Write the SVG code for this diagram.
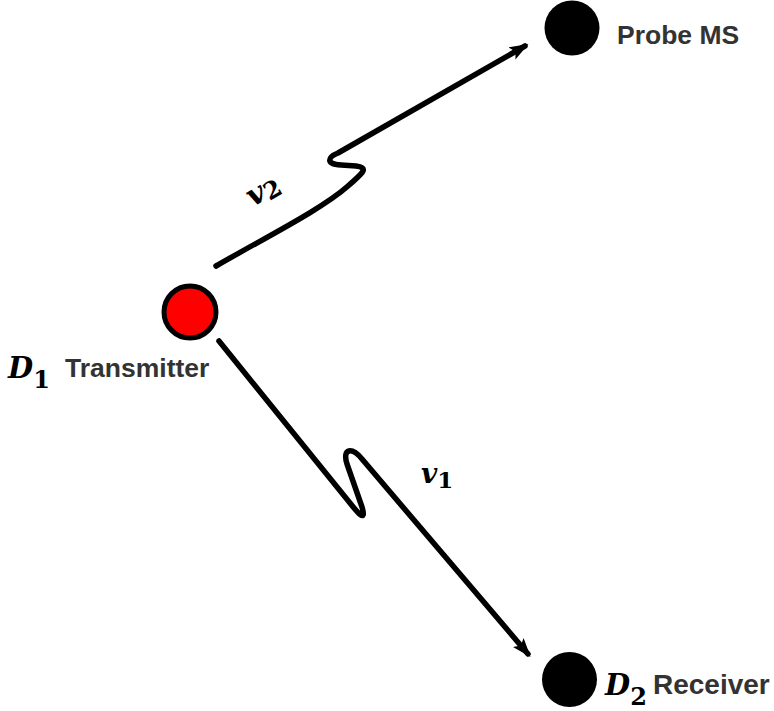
<svg xmlns="http://www.w3.org/2000/svg" width="774" height="711" viewBox="0 0 774 711">
  <style>
    .lbl { font-family: "Liberation Sans", Arial, sans-serif; font-weight: bold; fill: #333333; }
    .math { font-family: "DejaVu Serif", "Liberation Serif", serif; font-weight: bold; font-style: italic; fill: #000000; }
    .sub { font-style: normal; }
    .wire { fill: none; stroke: #000000; stroke-width: 5.5; stroke-linecap: round; stroke-linejoin: round; }
  </style>
  <defs>
    <marker id="arrow" markerUnits="userSpaceOnUse" markerWidth="20" markerHeight="16" refX="15" refY="7" orient="auto">
      <path d="M0,0 L19,7 L0,14 L4,7 Z" fill="#000000"/>
    </marker>
  </defs>
  <rect width="774" height="711" fill="#ffffff"/>

  <g id="connectors">
    <path class="wire" d="M216,266 C268,236 322,209 348,186 C360,175 371,168 356,166 L341,165 C325,164 328,157 338,153 L525,46" marker-end="url(#arrow)"/>
    <path class="wire" d="M219,341 L350,503 C357,512 367,524 362,507 L347,464 C342,448 352,447 362,459 L528,654" marker-end="url(#arrow)"/>
    <text class="math" font-size="30" transform="translate(253,207) rotate(-30)">v<tspan class="sub" font-size="24" dy="3">2</tspan></text>
    <text class="math" font-size="28" x="421" y="483">v<tspan class="sub" font-size="23" dy="5">1</tspan></text>
  </g>

  <g id="D1">
    <circle cx="190" cy="312" r="26" fill="#ff0000" stroke="#000000" stroke-width="5"/>
    <text class="math" font-size="29" x="8" y="378">D<tspan class="sub" font-size="24" dy="10">1</tspan></text>
    <text class="lbl" font-size="26.5" x="65" y="377">Transmitter</text>
  </g>

  <g id="probe">
    <circle cx="572" cy="28" r="27.5" fill="#000000"/>
    <text class="lbl" font-size="26.5" x="617" y="44">Probe MS</text>
  </g>

  <g id="D2">
    <circle cx="569.5" cy="679.5" r="27.5" fill="#000000"/>
    <text class="math" font-size="29" x="605" y="695">D<tspan class="sub" font-size="24" dy="10">2</tspan></text>
    <text class="lbl" font-size="28" x="653" y="694">Receiver</text>
  </g>
</svg>
